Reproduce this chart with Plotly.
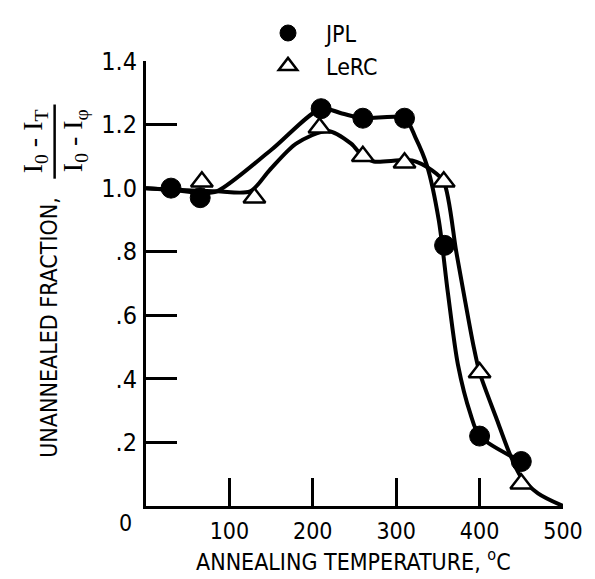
import plotly.graph_objects as go

# ---- data ----
jpl_temp = [30, 65, 210, 260, 310, 358, 400, 450]
jpl_frac = [1.00, 0.97, 1.25, 1.22, 1.22, 0.82, 0.22, 0.14]

lerc_temp = [67, 130, 208, 260, 310, 357, 400, 450]
lerc_frac = [1.02, 0.97, 1.19, 1.10, 1.08, 1.02, 0.42, 0.07]

# faired curves as drawn in the reference
jpl_curve_t = [0, 30, 65, 85, 150, 210, 235, 260, 310, 323, 337, 351, 362, 374, 389, 400, 450]
jpl_curve_f = [1.00, 0.995, 0.985, 0.99, 1.12, 1.25, 1.235, 1.22, 1.22, 1.16, 1.07, 0.90, 0.67, 0.445, 0.29, 0.22, 0.14]

lerc_curve_t = [0, 85, 125, 148, 180, 218, 246, 260, 273, 319, 343, 357, 372, 383, 393, 400, 421, 436, 450, 470, 500]
lerc_curve_f = [1.00, 0.99, 0.99, 1.056, 1.14, 1.18, 1.14, 1.10, 1.084, 1.087, 1.056, 1.02, 0.80, 0.64, 0.50, 0.42, 0.27, 0.165, 0.09, 0.04, 0.0]

x_ticks = [100, 200, 300, 400, 500]
x_ticktext = ["100", "200", "300", "400", "500"]
y_ticks = [0.2, 0.4, 0.6, 0.8, 1.0, 1.2, 1.4]
y_ticktext = [".2", ".4", ".6", ".8", "1.0", "1.2", "1.4"]

W, H = 595, 579
L, R, T, B = 146, 20, 56, 73
PW, PH = W - L - R, H - T - B


def px(X):
    return (X - L) / PW


def py(Y):
    return (H - B - Y) / PH


NARROW = "Liberation Sans Narrow, DejaVu Sans Condensed, Arial Narrow, sans-serif"
SERIF = "Liberation Serif, DejaVu Serif, serif"

fig = go.Figure()

fig.add_trace(go.Scatter(x=jpl_curve_t, y=jpl_curve_f, mode="lines",
                         line=dict(color="black", width=4, shape="spline", smoothing=0.8),
                         showlegend=False, hoverinfo="skip"))
fig.add_trace(go.Scatter(x=lerc_curve_t, y=lerc_curve_f, mode="lines",
                         line=dict(color="black", width=4, shape="spline", smoothing=0.8),
                         showlegend=False, hoverinfo="skip"))

fig.add_trace(go.Scatter(x=jpl_temp, y=jpl_frac, mode="markers", name="JPL",
                         marker=dict(symbol="circle", size=20, color="black",
                                     line=dict(color="black", width=1)),
                         cliponaxis=False))
fig.add_trace(go.Scatter(x=lerc_temp, y=lerc_frac, mode="markers", name="LeRC",
                         marker=dict(symbol="triangle-up", size=19, color="white",
                                     line=dict(color="black", width=2.5)),
                         cliponaxis=False))

fig.update_layout(
    width=W, height=H,
    margin=dict(l=L, r=R, t=T, b=B, pad=0),
    paper_bgcolor="white", plot_bgcolor="white",
    font=dict(family=NARROW, color="black", size=22),
    showlegend=True,
    legend=dict(x=px(253), y=py(6), xanchor="left", yanchor="top",
                font=dict(family=NARROW, size=23, color="black"),
                bgcolor="rgba(0,0,0,0)", itemwidth=66, tracegroupgap=0),
    xaxis=dict(range=[0, 500], tickvals=x_ticks, ticktext=x_ticktext,
               showgrid=False, zeroline=False, showline=True, linecolor="black", linewidth=3,
               ticks="inside", ticklen=28, tickwidth=3, tickcolor="black",
               tickfont=dict(family=NARROW, size=23), ticklabelstandoff=2),
    yaxis=dict(range=[0, 1.4], tickvals=y_ticks, ticktext=y_ticktext,
               showgrid=False, zeroline=False, showline=True, linecolor="black", linewidth=3,
               ticks="inside", ticklen=31, tickwidth=3, tickcolor="black",
               tickfont=dict(family=NARROW, size=25), ticklabelstandoff=1),
    annotations=[
        dict(text="0", xref="x", yref="y", x=0, y=0, xshift=-21, yshift=-17,
             xanchor="center", yanchor="middle",
             showarrow=False, font=dict(family=NARROW, size=23)),
        dict(text="ANNEALING TEMPERATURE, <sup>o</sup>C", xref="paper", yref="paper",
             x=px(359), y=py(561), xanchor="center", yanchor="middle",
             showarrow=False, font=dict(family=NARROW, size=23)),
        dict(text="UNANNEALED FRACTION,", xref="paper", yref="paper", textangle=-90,
             x=px(46), y=py(325), xanchor="center", yanchor="middle",
             showarrow=False, font=dict(family=NARROW, size=23)),
        dict(text="I<sub>0</sub> - I<sub>T</sub>", xref="paper", yref="paper", textangle=-90,
             x=px(31), y=py(137), xanchor="center", yanchor="middle",
             showarrow=False, font=dict(family=SERIF, size=28)),
        dict(text="I<sub>0</sub> - I<sub>φ</sub>", xref="paper", yref="paper", textangle=-90,
             x=px(72), y=py(137), xanchor="center", yanchor="middle",
             showarrow=False, font=dict(family=SERIF, size=28)),
    ],
    shapes=[
        dict(type="line", xref="paper", yref="paper", x0=px(52), x1=px(52),
             y0=py(100), y1=py(175), line=dict(color="black", width=2.5)),
    ],
)

fig.write_html("out.html")
